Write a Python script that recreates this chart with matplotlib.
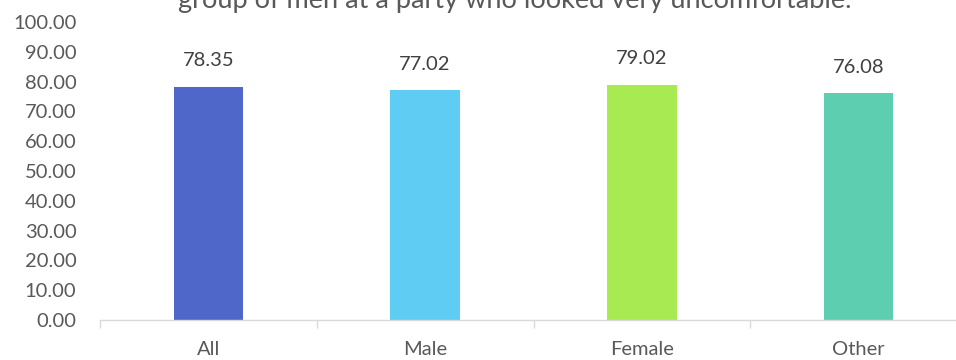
import numpy as np
import matplotlib.pyplot as plt

plt.rcParams['font.family'] = ['Lato', 'DejaVu Sans']

categories = ['All', 'Male', 'Female', 'Other']
values = [78.35, 77.02, 79.02, 76.08]
colors = ['#4E67C8', '#5ECCF3', '#A7EA52', '#5DCEAF']
title = 'group of men at a party who looked very uncomfortable.'

fig = plt.figure(figsize=(9.56, 3.6), dpi=100)
ax = fig.add_axes([100/956, 40/360, 867/956, 298/360])

x = np.arange(len(categories))
bars = ax.bar(x, values, width=0.32, color=colors)

for xi, v in zip(x, values):
    ax.annotate(f'{v:.2f}', (xi, v), xytext=(0, 18.5), textcoords='offset points',
                ha='center', va='center', fontsize=14.5, color='#404040')

ax.set_xlim(-0.5, len(categories) - 0.5)
ax.set_ylim(0, 100)
ax.set_yticks(np.arange(0, 101, 10))
ax.set_yticklabels([f'{t:.2f}' for t in np.arange(0, 101, 10)])
ax.set_xticks(x)
ax.set_xticklabels(categories)
ax.set_xticks(np.arange(-0.5, len(categories)), minor=True)

ax.tick_params(axis='y', length=0, pad=17, labelsize=14.5, labelcolor='#595959')
ax.tick_params(axis='x', which='major', length=0, pad=15, labelsize=14.5, labelcolor='#595959')
ax.tick_params(axis='x', which='minor', length=6, color='#D9D9D9', width=1)

for s in ['top', 'right', 'left']:
    ax.spines[s].set_visible(False)
ax.spines['bottom'].set_color('#D9D9D9')
ax.spines['bottom'].set_linewidth(1)

fig.text(515/956, 1.0 - 8/360, title, ha='center', va='baseline',
         fontsize=19.5, color='#595959')

fig.savefig('out.png', dpi=100)
